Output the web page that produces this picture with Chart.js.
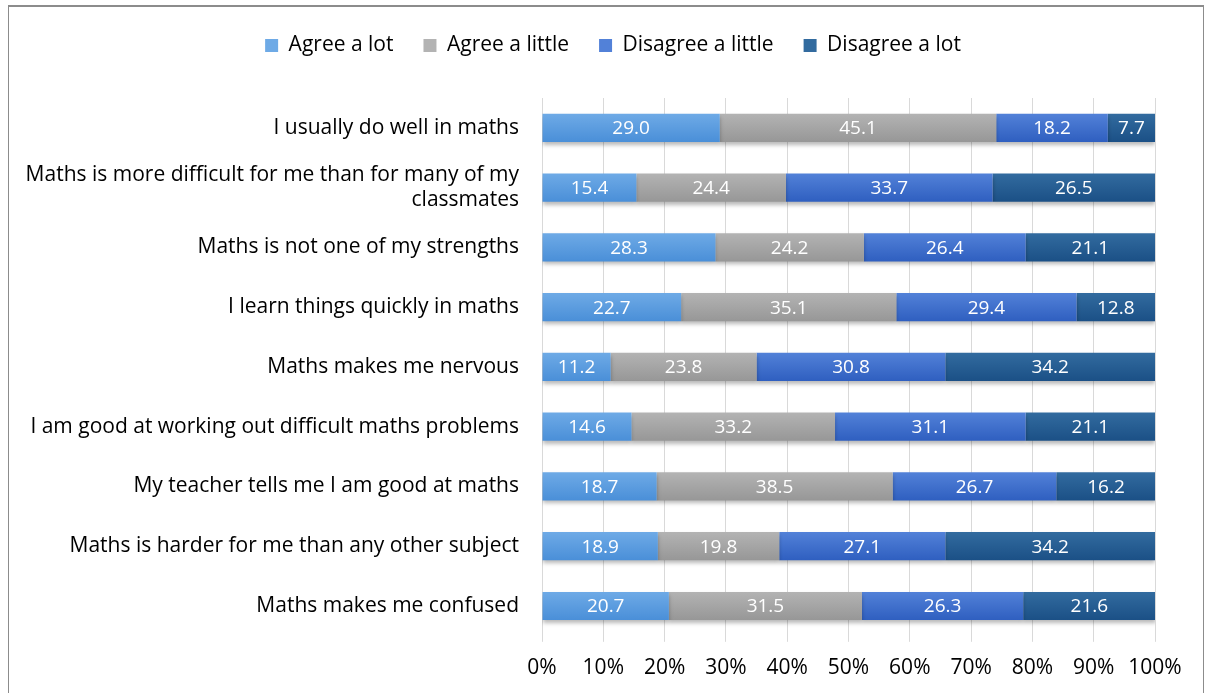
<!DOCTYPE html>
<html lang="en">
<head>
  <meta charset="UTF-8" />
  <title>Maths attitudes</title>
  <script src="https://cdn.jsdelivr.net/npm/chart.js"></script>
  <style>
    html, body { margin: 0; padding: 0; background: #fff; overflow: hidden; }
    .frame {
      position: absolute; left: 8px; top: 5px; width: 1194px; height: 700px;
      border: 1px solid #8c8c8c; border-top: 2px solid #8c8c8c; background: #fff;
    }
    .frame canvas { display: block; }
  </style>
</head>
<body>
<div class="frame"><canvas id="chart" width="1194" height="688"></canvas></div>

<script>
  // statements, top to bottom
  const statements = [
    'I usually do well in maths',
    ['Maths is more difficult for me than for many of my', 'classmates'],
    'Maths is not one of my strengths',
    'I learn things quickly in maths',
    'Maths makes me nervous',
    'I am good at working out difficult maths problems',
    'My teacher tells me I am good at maths',
    'Maths is harder for me than any other subject',
    'Maths makes me confused'
  ];

  const agreeLot       = [29.0, 15.4, 28.3, 22.7, 11.2, 14.6, 18.7, 18.9, 20.7];
  const agreeLittle    = [45.1, 24.4, 24.2, 35.1, 23.8, 33.2, 38.5, 19.8, 31.5];
  const disagreeLittle = [18.2, 33.7, 26.4, 29.4, 30.8, 31.1, 26.7, 27.1, 26.3];
  const disagreeLot    = [7.7, 26.5, 21.1, 12.8, 34.2, 21.1, 16.2, 34.2, 21.6];

  const FONT = "'Open Sans', sans-serif";

  // soft top-to-bottom shading on each bar, like the office chart
  function shade(top, bottom) {
    return function(c) {
      const chart = c.chart;
      const y = chart.scales.y;
      if (!chart.chartArea || !y || c.dataIndex === undefined) return bottom;
      const mid = y.getPixelForValue(c.dataIndex);
      const g = chart.ctx.createLinearGradient(0, mid - 14, 0, mid + 14);
      g.addColorStop(0, top);
      g.addColorStop(1, bottom);
      return g;
    };
  }

  // light drop shadow under the bars + white value labels
  const valueLabels = {
    id: 'valueLabels',
    beforeDatasetsDraw(chart) {
      const ctx = chart.ctx;
      ctx.save();
      ctx.shadowColor = 'rgba(0,0,0,0.28)';
      ctx.shadowBlur = 4;
      ctx.shadowOffsetY = 3;
    },
    afterDatasetsDraw(chart) {
      const ctx = chart.ctx;
      ctx.restore();
      ctx.save();
      ctx.fillStyle = '#ffffff';
      ctx.font = '19px ' + FONT;
      ctx.textAlign = 'center';
      ctx.textBaseline = 'middle';
      chart.data.datasets.forEach((ds, i) => {
        chart.getDatasetMeta(i).data.forEach((bar, j) => {
          const p = bar.getProps(['x', 'y', 'base'], true);
          ctx.fillText(ds.data[j].toFixed(1), (p.x + p.base) / 2, p.y + 1);
        });
      });
      ctx.restore();
    }
  };

  // extra room under the legend, and centre it on the whole frame
  const legendGap = {
    id: 'legendGap',
    beforeInit(chart) {
      const fit = chart.legend.fit;
      chart.legend.fit = function() {
        fit.bind(chart.legend)();
        this.height += 32;
      };
    },
    afterLayout(chart) {
      chart.legend.left += 31;
      chart.legend.right += 31;
    }
  };

  Chart.defaults.font.family = FONT;
  Chart.defaults.color = '#000';

  new Chart(document.getElementById('chart'), {
    type: 'bar',
    data: {
      labels: statements,
      datasets: [
        { label: 'Agree a lot', data: agreeLot, backgroundColor: shade('#6eaae6', '#4a8fd8') },
        { label: 'Agree a little', data: agreeLittle, backgroundColor: shade('#b3b3b3', '#979797') },
        { label: 'Disagree a little', data: disagreeLittle, backgroundColor: shade('#5281d8', '#2f5fc0') },
        { label: 'Disagree a lot', data: disagreeLot, backgroundColor: shade('#326b9f', '#1b5086') }
      ]
    },
    options: {
      indexAxis: 'y',
      responsive: false,
      animation: false,
      layout: { padding: { top: -2, right: 48, bottom: 0, left: 0 } },
      datasets: { bar: { categoryPercentage: 1, barPercentage: 0.47 } },
      scales: {
        x: {
          stacked: true,
          min: 0, max: 100,
          ticks: { stepSize: 10, callback: v => v + '%', font: { size: 21 }, padding: 14 },
          grid: { color: '#d9d9d9', tickLength: 6 },
          border: { display: false }
        },
        y: {
          stacked: true,
          ticks: { font: { size: 21 }, padding: 15, color: '#000' },
          grid: { display: false },
          border: { display: false },
          afterFit(scale) { scale.width = 533; }
        }
      },
      plugins: {
        legend: {
          position: 'top',
          labels: { font: { size: 21 }, boxWidth: 13, boxHeight: 13, padding: 30 }
        },
        tooltip: { enabled: false }
      }
    },
    plugins: [valueLabels, legendGap]
  });
</script>
</body>
</html>
